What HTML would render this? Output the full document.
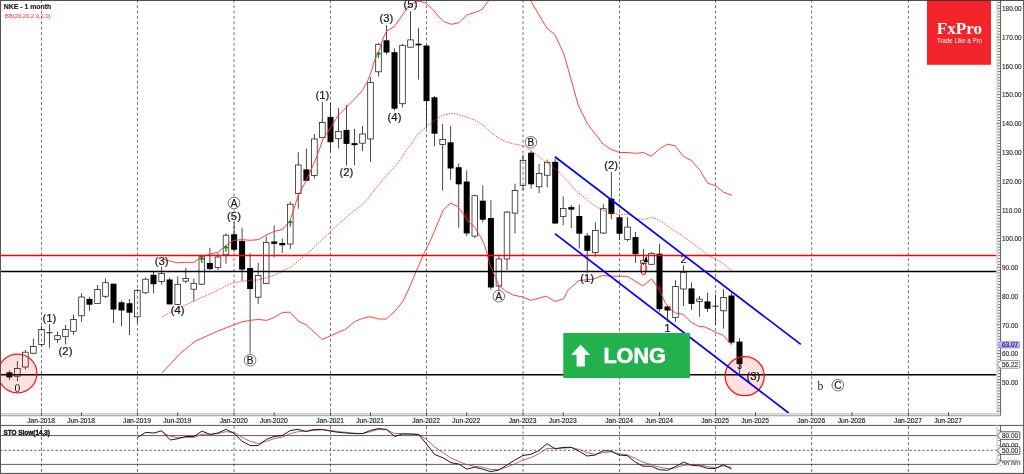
<!DOCTYPE html>
<html lang="en"><head><meta charset="utf-8"><title>NKE - 1 month</title>
<style>
html,body{margin:0;padding:0;background:#fff;}
body{width:1024px;height:474px;overflow:hidden;}
svg{display:block;}
text{font-family:"Liberation Sans",Arial,sans-serif;}
.ser{font-family:"Liberation Serif","Times New Roman",serif;}
.ax{font-size:6.45px;fill:#202020;stroke:#202020;stroke-width:0.1px;}
.tm{font-size:6.7px;fill:#202020;text-anchor:middle;stroke:#202020;stroke-width:0.15px;}
.lb{font-size:11.3px;fill:#1a1a1a;text-anchor:middle;stroke:#1a1a1a;stroke-width:0.22px;}
.wk{stroke:#161616;stroke-width:0.78;}
.hb{fill:none;stroke:#222;stroke-width:0.78;}
.bb{fill:#000;}
.grid{stroke:#505050;stroke-width:0.8;stroke-dasharray:3 2.38;}
</style></head><body>
<svg width="1024" height="474" viewBox="0 0 1024 474">
<rect x="0" y="0" width="1024" height="474" fill="#fff"/>
<g class="grid">
<line x1="41.47" y1="-0.2" x2="41.47" y2="413"/>
<line x1="41.47" y1="426" x2="41.47" y2="473"/>
<line x1="137.45" y1="-0.2" x2="137.45" y2="413"/>
<line x1="137.45" y1="426" x2="137.45" y2="473"/>
<line x1="234.05" y1="-0.2" x2="234.05" y2="413"/>
<line x1="234.05" y1="426" x2="234.05" y2="473"/>
<line x1="330.47" y1="-0.2" x2="330.47" y2="413"/>
<line x1="330.47" y1="426" x2="330.47" y2="473"/>
<line x1="426.47" y1="-0.2" x2="426.47" y2="413"/>
<line x1="426.47" y1="426" x2="426.47" y2="473"/>
<line x1="523.05" y1="-0.2" x2="523.05" y2="413"/>
<line x1="523.05" y1="426" x2="523.05" y2="473"/>
<line x1="619.47" y1="-0.2" x2="619.47" y2="413"/>
<line x1="619.47" y1="426" x2="619.47" y2="473"/>
<line x1="715.45" y1="-0.2" x2="715.45" y2="413"/>
<line x1="715.45" y1="426" x2="715.45" y2="473"/>
<line x1="811.65" y1="-0.2" x2="811.65" y2="413"/>
<line x1="811.65" y1="426" x2="811.65" y2="473"/>
<line x1="908.40" y1="-0.2" x2="908.40" y2="413"/>
<line x1="908.40" y1="426" x2="908.40" y2="473"/>
</g>
<line x1="0" y1="435.6" x2="997" y2="435.6" stroke="#333" stroke-width="0.8"/>
<line x1="0" y1="450.3" x2="997" y2="450.3" stroke="#333" stroke-width="0.8" stroke-dasharray="2.3 1.97"/>
<line x1="0" y1="464.4" x2="997" y2="464.4" stroke="#333" stroke-width="0.8"/>
<g>
<line class="wk" x1="9.4" y1="370.5" x2="9.4" y2="380"/>
<rect class="bb" x="6.4" y="372.4" width="6.0" height="5.0"/>
<path class="wk" d="M17.4 361V368.6M17.4 376.2V381.2"/>
<rect class="hb" x="14.6" y="368.6" width="5.6" height="7.6"/>
<path class="wk" d="M25.4 350V352.2M25.4 367V369.4"/>
<rect class="hb" x="22.6" y="352.2" width="5.6" height="14.8"/>
<path class="wk" d="M33.4 338.6V346.6M33.4 353.2V354.2"/>
<rect class="hb" x="30.6" y="346.6" width="5.6" height="6.6"/>
<path class="wk" d="M41.5 326V329.4M41.5 344.6V346.2"/>
<rect class="hb" x="38.7" y="329.4" width="5.6" height="15.2"/>
<line class="wk" x1="49.5" y1="324.3" x2="49.5" y2="347.8"/>
<rect class="bb" x="46.5" y="332.3" width="6.0" height="0.9"/>
<path class="wk" d="M57.5 331.6V335.7M57.5 339.5V342.8"/>
<rect class="hb" x="54.7" y="335.7" width="5.6" height="3.8"/>
<path class="wk" d="M65.5 325V329.5M65.5 336.7V344.3"/>
<rect class="hb" x="62.7" y="329.5" width="5.6" height="7.2"/>
<path class="wk" d="M73.5 314.6V319.4M73.5 331.3V334.8"/>
<rect class="hb" x="70.7" y="319.4" width="5.6" height="11.9"/>
<path class="wk" d="M81.5 293.2V297M81.5 315.8V321.8"/>
<rect class="hb" x="78.7" y="297" width="5.6" height="18.8"/>
<line class="wk" x1="89.5" y1="297.2" x2="89.5" y2="310.8"/>
<rect class="bb" x="86.5" y="298.9" width="6.0" height="5.8"/>
<path class="wk" d="M97.5 285V289.4"/>
<rect class="hb" x="94.7" y="289.4" width="5.6" height="14.0"/>
<path class="wk" d="M105.5 278.6V282.7M105.5 296.3V298"/>
<rect class="hb" x="102.7" y="282.7" width="5.6" height="13.6"/>
<line class="wk" x1="113.5" y1="283.7" x2="113.5" y2="323"/>
<rect class="bb" x="110.5" y="283.7" width="6.0" height="25.8"/>
<line class="wk" x1="121.5" y1="300.4" x2="121.5" y2="326.3"/>
<rect class="bb" x="118.5" y="302.3" width="6.0" height="8.2"/>
<line class="wk" x1="129.5" y1="299.1" x2="129.5" y2="335"/>
<rect class="bb" x="126.5" y="303.2" width="6.0" height="9.5"/>
<path class="wk" d="M137.4 289V290.3M137.4 316.8V323.2"/>
<rect class="hb" x="134.6" y="290.3" width="5.6" height="26.5"/>
<path class="wk" d="M145.5 277.6V279.2M145.5 292.8V294"/>
<rect class="hb" x="142.7" y="279.2" width="5.6" height="13.6"/>
<line class="wk" x1="153.5" y1="271.9" x2="153.5" y2="293.4"/>
<rect class="bb" x="150.5" y="274.8" width="6.0" height="9.4"/>
<path class="wk" d="M161.6 266.6V273.5M161.6 281.4V284.6"/>
<rect class="hb" x="158.8" y="273.5" width="5.6" height="7.9"/>
<line class="wk" x1="169.6" y1="277.6" x2="169.6" y2="304.4"/>
<rect class="bb" x="166.6" y="279.5" width="6.0" height="24.9"/>
<path class="wk" d="M177.7 276.3V284.3"/>
<rect class="hb" x="174.9" y="284.3" width="5.6" height="20.1"/>
<path class="wk" d="M185.8 267.8V278.6M185.8 281.1V283.3"/>
<rect class="hb" x="182.9" y="278.6" width="5.6" height="2.5"/>
<path class="wk" d="M193.8 278.6V283.3M193.8 289.2V301.6"/>
<rect class="hb" x="191.0" y="283.3" width="5.6" height="5.9"/>
<path class="wk" d="M201.8 256V256.7M201.8 284.2V285.2"/>
<rect class="hb" x="199.0" y="256.7" width="5.6" height="27.5"/>
<line class="wk" x1="209.9" y1="247.8" x2="209.9" y2="270"/>
<rect class="bb" x="206.9" y="263" width="6.0" height="6.1"/>
<path class="wk" d="M218.0 253.2V257M218.0 267.5V270"/>
<rect class="hb" x="215.2" y="257" width="5.6" height="10.5"/>
<path class="wk" d="M226.0 233.3V235.2M226.0 254.8V263.7"/>
<rect class="hb" x="223.2" y="235.2" width="5.6" height="19.6"/>
<line class="wk" x1="234.1" y1="222" x2="234.1" y2="252"/>
<rect class="bb" x="231.1" y="234.3" width="6.0" height="15.4"/>
<line class="wk" x1="242.1" y1="227.6" x2="242.1" y2="280.8"/>
<rect class="bb" x="239.1" y="240.9" width="6.0" height="28.7"/>
<line class="wk" x1="250.1" y1="253.2" x2="250.1" y2="353.6"/>
<rect class="bb" x="247.1" y="268" width="6.0" height="21.0"/>
<path class="wk" d="M258.2 263V275.4M258.2 297.2V304.2"/>
<rect class="hb" x="255.4" y="275.4" width="5.6" height="21.8"/>
<path class="wk" d="M266.2 236.5V242.4M266.2 283.3V284"/>
<rect class="hb" x="263.4" y="242.4" width="5.6" height="40.9"/>
<line class="wk" x1="274.2" y1="225.3" x2="274.2" y2="257.6"/>
<rect class="bb" x="271.2" y="241.5" width="6.0" height="2.3"/>
<line class="wk" x1="282.3" y1="238.4" x2="282.3" y2="252.9"/>
<rect class="bb" x="279.3" y="243" width="6.0" height="2.3"/>
<path class="wk" d="M290.3 201.6V204.2M290.3 244V248.9"/>
<rect class="hb" x="287.5" y="204.2" width="5.6" height="39.8"/>
<path class="wk" d="M298.3 152.3V165M298.3 193.4V208.6"/>
<rect class="hb" x="295.5" y="165" width="5.6" height="28.4"/>
<line class="wk" x1="306.4" y1="148.5" x2="306.4" y2="181"/>
<rect class="bb" x="303.4" y="169.4" width="6.0" height="11.4"/>
<path class="wk" d="M314.4 134V139M314.4 175.4V178.6"/>
<rect class="hb" x="311.6" y="139" width="5.6" height="36.4"/>
<path class="wk" d="M322.4 101.8V122.6M322.4 137.5V138"/>
<rect class="hb" x="319.6" y="122.6" width="5.6" height="14.9"/>
<line class="wk" x1="330.5" y1="103" x2="330.5" y2="151.7"/>
<rect class="bb" x="327.5" y="116.9" width="6.0" height="25.3"/>
<path class="wk" d="M338.5 108.1V131.5M338.5 138.7V148.5"/>
<rect class="hb" x="335.7" y="131.5" width="5.6" height="7.2"/>
<line class="wk" x1="346.5" y1="104.9" x2="346.5" y2="165.6"/>
<rect class="bb" x="343.5" y="129.9" width="6.0" height="14.0"/>
<line class="wk" x1="354.5" y1="128.9" x2="354.5" y2="165"/>
<rect class="bb" x="351.5" y="143.1" width="6.0" height="2.0"/>
<path class="wk" d="M362.5 125.8V134M362.5 143.2V151"/>
<rect class="hb" x="359.7" y="134" width="5.6" height="9.2"/>
<path class="wk" d="M370.5 77.1V82.4M370.5 139V161.8"/>
<rect class="hb" x="367.7" y="82.4" width="5.6" height="56.6"/>
<path class="wk" d="M378.5 43V44.3M378.5 71.8V76.5"/>
<rect class="hb" x="375.7" y="44.3" width="5.6" height="27.5"/>
<line class="wk" x1="386.5" y1="25.3" x2="386.5" y2="54.4"/>
<rect class="bb" x="383.5" y="40.3" width="6.0" height="12.2"/>
<line class="wk" x1="394.5" y1="48.4" x2="394.5" y2="110.6"/>
<rect class="bb" x="391.5" y="52.2" width="6.0" height="56.5"/>
<path class="wk" d="M402.5 44V45.3M402.5 103.7V107.5"/>
<rect class="hb" x="399.7" y="45.3" width="5.6" height="58.4"/>
<path class="wk" d="M410.5 11.4V39.9"/>
<rect class="hb" x="407.7" y="39.9" width="5.6" height="7.3"/>
<line class="wk" x1="418.5" y1="27.8" x2="418.5" y2="79.6"/>
<rect class="bb" x="415.5" y="43.7" width="6.0" height="1.6"/>
<line class="wk" x1="426.5" y1="44.6" x2="426.5" y2="128.5"/>
<rect class="bb" x="423.5" y="45.6" width="6.0" height="55.5"/>
<line class="wk" x1="434.5" y1="96" x2="434.5" y2="146.3"/>
<rect class="bb" x="431.5" y="97.3" width="6.0" height="36.4"/>
<path class="wk" d="M442.6 123.9V139.4M442.6 144.5V190.6"/>
<rect class="hb" x="439.8" y="139.4" width="5.6" height="5.1"/>
<line class="wk" x1="450.6" y1="125.8" x2="450.6" y2="179.9"/>
<rect class="bb" x="447.6" y="142.3" width="6.0" height="26.2"/>
<line class="wk" x1="458.7" y1="163.4" x2="458.7" y2="227.7"/>
<rect class="bb" x="455.7" y="167.2" width="6.0" height="17.1"/>
<line class="wk" x1="466.7" y1="170.4" x2="466.7" y2="236.1"/>
<rect class="bb" x="463.7" y="181.5" width="6.0" height="51.9"/>
<path class="wk" d="M474.8 194.7V195.7M474.8 236.1V238"/>
<rect class="hb" x="472.0" y="195.7" width="5.6" height="40.4"/>
<line class="wk" x1="482.8" y1="185.6" x2="482.8" y2="222.2"/>
<rect class="bb" x="479.8" y="200.7" width="6.0" height="19.0"/>
<line class="wk" x1="490.9" y1="200.3" x2="490.9" y2="289.5"/>
<rect class="bb" x="487.9" y="218" width="6.0" height="69.5"/>
<path class="wk" d="M498.9 255.7V259M498.9 286V290.6"/>
<rect class="hb" x="496.1" y="259" width="5.6" height="27.0"/>
<path class="wk" d="M507.0 211V212.1M507.0 259V270"/>
<rect class="hb" x="504.2" y="212.1" width="5.6" height="46.9"/>
<path class="wk" d="M515.0 183.7V190.4M515.0 213.1V233.6"/>
<rect class="hb" x="512.2" y="190.4" width="5.6" height="22.7"/>
<path class="wk" d="M523.0 155V160.3M523.0 185.3V190"/>
<rect class="hb" x="520.2" y="160.3" width="5.6" height="25.0"/>
<line class="wk" x1="531.1" y1="150.8" x2="531.1" y2="188.7"/>
<rect class="bb" x="528.1" y="152.7" width="6.0" height="31.6"/>
<path class="wk" d="M539.1 164V173.5M539.1 186.8V193.2"/>
<rect class="hb" x="536.3" y="173.5" width="5.6" height="13.3"/>
<path class="wk" d="M547.2 159.6V162.5M547.2 175.2V187.5"/>
<rect class="hb" x="544.4" y="162.5" width="5.6" height="12.7"/>
<line class="wk" x1="555.2" y1="158.6" x2="555.2" y2="224"/>
<rect class="bb" x="552.2" y="161.8" width="6.0" height="61.7"/>
<path class="wk" d="M563.2 196.3V208.5M563.2 216.5V225.4"/>
<rect class="hb" x="560.4" y="208.5" width="5.6" height="8.0"/>
<line class="wk" x1="571.3" y1="205" x2="571.3" y2="228"/>
<rect class="bb" x="568.3" y="207.1" width="6.0" height="2.5"/>
<line class="wk" x1="579.3" y1="204.6" x2="579.3" y2="248.5"/>
<rect class="bb" x="576.3" y="216" width="6.0" height="17.7"/>
<line class="wk" x1="587.3" y1="233" x2="587.3" y2="272.9"/>
<rect class="bb" x="584.3" y="235.6" width="6.0" height="15.2"/>
<path class="wk" d="M595.4 222.3V230.5M595.4 252.4V256.5"/>
<rect class="hb" x="592.6" y="230.5" width="5.6" height="21.9"/>
<path class="wk" d="M603.4 204.2V208.7M603.4 233V234"/>
<rect class="hb" x="600.6" y="208.7" width="5.6" height="24.3"/>
<line class="wk" x1="611.4" y1="172" x2="611.4" y2="219.1"/>
<rect class="bb" x="608.4" y="198.6" width="6.0" height="15.4"/>
<line class="wk" x1="619.5" y1="215" x2="619.5" y2="240"/>
<rect class="bb" x="616.5" y="217.2" width="6.0" height="16.5"/>
<path class="wk" d="M627.5 217.2V227.1M627.5 239.4V241.3"/>
<rect class="hb" x="624.7" y="227.1" width="5.6" height="12.3"/>
<line class="wk" x1="635.5" y1="231.8" x2="635.5" y2="262.8"/>
<rect class="bb" x="632.5" y="237.1" width="6.0" height="17.1"/>
<path class="wk" d="M643.5 248.9V260.3M643.5 263.4V265"/>
<rect class="hb" x="640.7" y="260.3" width="5.6" height="3.1"/>
<path class="wk" d="M651.5 252V253.3M651.5 264.3V265"/>
<rect class="hb" x="648.7" y="253.3" width="5.6" height="11.0"/>
<line class="wk" x1="659.5" y1="243.8" x2="659.5" y2="311.8"/>
<rect class="bb" x="656.5" y="253.7" width="6.0" height="55.5"/>
<line class="wk" x1="667.5" y1="305" x2="667.5" y2="321.9"/>
<rect class="bb" x="664.5" y="306.5" width="6.0" height="4.0"/>
<path class="wk" d="M675.5 280.1V286.5M675.5 317.5V321.9"/>
<rect class="hb" x="672.7" y="286.5" width="5.6" height="31.0"/>
<path class="wk" d="M683.5 265.3V272.3M683.5 289V306.1"/>
<rect class="hb" x="680.7" y="272.3" width="5.6" height="16.7"/>
<line class="wk" x1="691.5" y1="282.3" x2="691.5" y2="309.9"/>
<rect class="bb" x="688.5" y="288.4" width="6.0" height="15.5"/>
<path class="wk" d="M699.5 296V299.1M699.5 301.4V316.8"/>
<rect class="hb" x="696.7" y="299.1" width="5.6" height="2.3"/>
<line class="wk" x1="707.5" y1="292.8" x2="707.5" y2="311.9"/>
<rect class="bb" x="704.5" y="301.4" width="6.0" height="7.3"/>
<line class="wk" x1="715.5" y1="294.4" x2="715.5" y2="324.8"/>
<rect class="bb" x="712.5" y="305.7" width="6.0" height="0.9"/>
<path class="wk" d="M723.5 289.2V297.6M723.5 310.8V328.6"/>
<rect class="hb" x="720.7" y="297.6" width="5.6" height="13.2"/>
<line class="wk" x1="731.5" y1="292.8" x2="731.5" y2="343.8"/>
<rect class="bb" x="728.5" y="295.5" width="6.0" height="47.1"/>
<line class="wk" x1="739.5" y1="338.2" x2="739.5" y2="374.3"/>
<rect class="bb" x="736.5" y="341.6" width="6.0" height="22.3"/>
</g>
<polyline points="162.0,258.8 167.0,260.3 177.2,262.8 187.3,262.3 193.8,262.4 202.0,256.7 210.3,253.9 217.8,252.3 226.1,245.3 233.7,240.3 241.9,239.6 250.1,240.3 258.4,239.6 266.0,235.2 274.2,231.4 282.4,229.5 290.0,220.8 298.2,195.3 306.2,180.8 316.7,156.8 323.0,139.1 330.6,127.7 338.0,115.7 346.8,106.8 354.4,99.2 362.0,91.0 367.1,82.2 370.9,72.7 374.7,60.0 379.1,50.6 383.2,38.0 386.7,31.0 394.3,26.6 400.6,17.7 407.0,8.2 413.3,3.2 419.0,1.0 426.0,3.2 432.3,8.9 438.6,16.5 443.7,21.5 451.3,24.3 458.9,22.8 466.5,15.2 478.0,11.4 482.6,8.9 489.0,0.0 510.0,-20.0 530.2,0.0 547.0,28.4 555.0,34.7 564.0,54.4 571.5,81.0 578.2,105.0 587.1,123.4 595.3,134.1 603.2,144.2 611.1,149.3 619.4,152.5 627.6,152.5 635.6,153.4 643.4,152.5 651.3,156.3 659.2,149.1 667.5,144.2 675.1,145.8 683.3,156.3 691.3,160.4 699.5,169.6 707.7,183.2 715.6,185.7 723.5,192.2 731.8,195.3" fill="none" stroke="#ff3636" stroke-width="0.95" stroke-linejoin="round"/>
<polyline points="162.0,373.0 179.7,354.0 195.0,341.3 217.7,331.1 233.9,324.8 242.0,321.9 250.3,320.4 258.1,319.4 266.7,320.4 274.3,317.5 282.5,312.4 290.1,312.2 298.4,321.3 306.0,324.7 314.0,332.0 322.3,339.5 330.7,335.7 345.9,329.1 354.7,321.5 362.3,318.5 370.0,316.7 378.8,319.0 386.4,319.0 395.2,310.9 402.8,301.5 409.2,288.1 415.5,272.9 424.4,252.7 430.7,240.0 443.3,209.9 450.8,203.2 457.7,206.4 463.4,214.0 467.2,220.3 474.2,226.6 480.5,236.8 484.3,244.4 487.5,255.0 490.2,265.3 499.0,285.6 506.0,291.4 513.6,295.2 521.8,296.8 531.0,300.3 546.2,296.2 555.0,301.5 563.9,298.7 567.6,290.6 579.0,280.5 592.9,279.2 603.0,275.4 610.6,276.1 627.1,276.3 642.9,285.8 651.6,278.9 659.0,289.0 665.3,302.9 670.4,309.2 675.4,313.0 683.0,314.3 688.1,319.5 691.9,322.7 698.9,326.4 704.0,326.6 711.5,330.0 717.2,333.2 722.9,335.0 728.0,340.8 731.8,345.2" fill="none" stroke="#ff3636" stroke-width="0.95" stroke-linejoin="round"/>
<polyline points="161.8,316.8 170.6,312.4 178.2,308.0 185.8,304.8 194.1,301.0 202.3,297.2 211.1,293.4 220.0,289.0 227.6,285.2 233.9,282.7 242.0,281.1 250.3,280.4 258.1,279.9 266.0,277.6 274.2,275.1 283.7,270.6 291.3,266.8 298.9,260.5 307.1,253.5 318.0,243.4 332.2,230.0 341.0,221.9 351.1,213.0 361.3,205.4 367.6,199.1 375.2,189.0 381.5,181.4 388.0,173.8 399.0,161.8 408.0,147.9 410.0,145.7 417.6,134.3 426.5,126.7 435.3,119.7 442.9,115.3 450.5,113.4 458.1,114.3 467.0,117.2 475.8,120.4 483.4,125.4 491.0,132.4 498.6,138.1 506.2,141.9 515.0,144.2 522.7,145.5 531.3,150.8 538.9,156.5 547.7,163.4 558.0,171.0 566.5,180.0 575.3,190.0 582.9,196.3 591.8,204.0 600.6,209.0 609.5,212.8 618.4,214.3 628.5,214.3 636.1,218.5 643.7,219.7 651.3,217.2 658.9,220.0 667.1,225.8 675.3,231.5 683.5,236.5 693.0,243.5 700.6,249.2 708.2,255.5 715.8,259.3 723.4,263.7 731.6,270.7" fill="none" stroke="#ff3636" stroke-width="0.85" stroke-dasharray="1.6 1.1" stroke-linejoin="round"/>
<path d="M199.8 259.6L201.8 257.5L203.9 259.6M201.8 257.7V263.1" fill="none" stroke="#168c1c" stroke-width="1.35" stroke-linejoin="miter"/>
<path d="M223.9 248.3L226.0 246.2L228.1 248.3M226.0 246.4V251.8" fill="none" stroke="#168c1c" stroke-width="1.35" stroke-linejoin="miter"/>
<path d="M288.2 223.1L290.3 221.0L292.4 223.1M290.3 221.2V226.6" fill="none" stroke="#168c1c" stroke-width="1.35" stroke-linejoin="miter"/>
<path d="M376.4 54.5L378.5 52.4L380.6 54.5M378.5 52.6V58.0" fill="none" stroke="#168c1c" stroke-width="1.35" stroke-linejoin="miter"/>
<path d="M464.6 216.9L466.7 219.0L468.8 216.9M466.7 218.8V212.6" fill="none" stroke="#a00000" stroke-width="1.1" stroke-linejoin="miter"/>
<path d="M657.4 288.1L659.5 290.2L661.6 288.1M659.5 290.0V283.8" fill="none" stroke="#a00000" stroke-width="1.1" stroke-linejoin="miter"/>
<path d="M646.2 255.8L648 262H643.8Z" fill="#000"/>
<text class="ser" transform="translate(643.6 275) scale(0.8 1)" x="0" y="0" text-anchor="middle" font-size="19.2" fill="#ff0000">0</text>
<line x1="1" y1="255.4" x2="997" y2="255.4" stroke="#ff0000" stroke-width="1.55"/>
<line x1="1" y1="271.45" x2="997" y2="271.45" stroke="#000" stroke-width="1.55"/>
<line x1="1" y1="374.82" x2="997" y2="374.82" stroke="#000" stroke-width="1.5"/>
<circle cx="17.5" cy="373.4" r="19.4" fill="#ff0000" fill-opacity="0.12" stroke="#ff1010" stroke-width="1.25"/>
<circle cx="744.7" cy="376.1" r="19.6" fill="#ff0000" fill-opacity="0.12" stroke="#ff1010" stroke-width="1.25"/>
<text class="lb" x="49.3" y="322.1">(1)</text>
<text class="lb" x="65.5" y="354.8">(2)</text>
<text class="lb" x="161.6" y="265.1">(3)</text>
<text class="lb" x="177.7" y="313.8">(4)</text>
<text class="lb" x="234" y="220">(5)</text>
<circle cx="234" cy="203" r="5.8" fill="#fff" stroke="#3a3a3a" stroke-width="0.7"/>
<text class="lb" x="234" y="206.6" style="font-size:10px" stroke="#1a1a1a" stroke-width="0.25">A</text>
<circle cx="250.1" cy="360.2" r="5.8" fill="#fff" stroke="#3a3a3a" stroke-width="0.7"/>
<text class="lb" x="250.1" y="363.8" style="font-size:10px" stroke="#1a1a1a" stroke-width="0.25">B</text>
<text class="lb" x="322.3" y="99.3">(1)</text>
<text class="lb" x="346.3" y="175.7">(2)</text>
<text class="lb" x="386.4" y="22.4">(3)</text>
<text class="lb" x="394.5" y="121">(4)</text>
<text class="lb" x="410.5" y="7.5">(5)</text>
<circle cx="530.9" cy="142.3" r="5.8" fill="#fff" stroke="#3a3a3a" stroke-width="0.7"/>
<text class="lb" x="530.9" y="145.9" style="font-size:10px" stroke="#1a1a1a" stroke-width="0.25">B</text>
<circle cx="498.8" cy="296.2" r="5.8" fill="#fff" stroke="#3a3a3a" stroke-width="0.7"/>
<text class="lb" x="498.8" y="299.8" style="font-size:10px" stroke="#1a1a1a" stroke-width="0.25">A</text>
<text class="lb" x="587.1" y="281.8">(1)</text>
<text class="lb" x="611.2" y="169">(2)</text>
<text class="lb" x="683.6" y="262.9">2</text>
<text class="lb" x="667.3" y="332.4">1</text>
<text class="lb" x="739.5" y="368.9" style="font-size:8.5px">3</text>
<text class="lb" x="753.3" y="380">(3)</text>
<text class="ser" x="17.3" y="392" text-anchor="middle" font-size="11.5" fill="#1a1a1a">0</text>
<text class="ser" x="820.3" y="389.7" text-anchor="middle" font-size="11.6" fill="#1a1a1a">b</text>
<circle cx="837.8" cy="385.2" r="5.8" fill="#fff" stroke="#3a3a3a" stroke-width="0.7"/>
<text class="lb" x="837.8" y="388.8" style="font-size:10px" stroke="#1a1a1a" stroke-width="0.25">C</text>
<line x1="554.9" y1="156.8" x2="800.8" y2="344.4" stroke="#0000ff" stroke-width="1.7"/>
<line x1="554.9" y1="233.7" x2="788.7" y2="413" stroke="#0000ff" stroke-width="1.7"/>
<rect x="563.3" y="333" width="126.6" height="45" fill="#22b14c"/>
<path d="M580.6 344.6L590.1 355H584.8V366.5H576.6V355H571.1Z" fill="#fff"/>
<text x="603.4" y="363.4" font-size="21.2" font-weight="bold" fill="#fff" stroke="#fff" stroke-width="0.6" textLength="62.4" lengthAdjust="spacingAndGlyphs">LONG</text>
<rect x="927" y="0" width="64" height="64.8" fill="#f3252b"/>
<text class="ser" x="936.7" y="34.4" font-size="17.2" font-weight="bold" fill="#fff" textLength="45.3" lengthAdjust="spacingAndGlyphs">FxPro</text>
<text x="937" y="42.8" font-size="6.3" fill="#fff" textLength="45" lengthAdjust="spacingAndGlyphs">Trade Like a Pro</text>
<text x="3.8" y="9.1" font-size="7.2" font-weight="bold" fill="#1a1a1a" stroke="#1a1a1a" stroke-width="0.15" textLength="47.5" lengthAdjust="spacingAndGlyphs" xml:space="preserve">NKE - 1 month</text>
<text x="5" y="18.3" font-size="6.2" fill="#ff2a2a" textLength="45.6" lengthAdjust="spacingAndGlyphs">BB(20,20,2.0,2.0)</text>
<rect x="0" y="413" width="1001" height="13" fill="#fff"/>
<rect x="0" y="413" width="1000" height="1" fill="#d6d3c4"/>
<rect x="0" y="414.6" width="1000.6" height="1.7" fill="#b0b0b0"/>
<line x1="41.5" y1="412.3" x2="41.5" y2="415.6" stroke="#222" stroke-width="0.8"/>
<text class="tm" x="41.1" y="422.65" textLength="27.9" lengthAdjust="spacingAndGlyphs">Jan-2018</text>
<line x1="81.5" y1="412.3" x2="81.5" y2="415.6" stroke="#222" stroke-width="0.8"/>
<text class="tm" x="81.1" y="422.65" textLength="27.9" lengthAdjust="spacingAndGlyphs">Jun-2018</text>
<line x1="137.4" y1="412.3" x2="137.4" y2="415.6" stroke="#222" stroke-width="0.8"/>
<text class="tm" x="137.0" y="422.65" textLength="27.9" lengthAdjust="spacingAndGlyphs">Jan-2019</text>
<line x1="177.7" y1="412.3" x2="177.7" y2="415.6" stroke="#222" stroke-width="0.8"/>
<text class="tm" x="177.3" y="422.65" textLength="27.9" lengthAdjust="spacingAndGlyphs">Jun-2019</text>
<line x1="234.1" y1="412.3" x2="234.1" y2="415.6" stroke="#222" stroke-width="0.8"/>
<text class="tm" x="233.7" y="422.65" textLength="27.9" lengthAdjust="spacingAndGlyphs">Jan-2020</text>
<line x1="274.2" y1="412.3" x2="274.2" y2="415.6" stroke="#222" stroke-width="0.8"/>
<text class="tm" x="273.8" y="422.65" textLength="27.9" lengthAdjust="spacingAndGlyphs">Jun-2020</text>
<line x1="330.5" y1="412.3" x2="330.5" y2="415.6" stroke="#222" stroke-width="0.8"/>
<text class="tm" x="330.1" y="422.65" textLength="27.9" lengthAdjust="spacingAndGlyphs">Jan-2021</text>
<line x1="370.5" y1="412.3" x2="370.5" y2="415.6" stroke="#222" stroke-width="0.8"/>
<text class="tm" x="370.1" y="422.65" textLength="27.9" lengthAdjust="spacingAndGlyphs">Jun-2021</text>
<line x1="426.5" y1="412.3" x2="426.5" y2="415.6" stroke="#222" stroke-width="0.8"/>
<text class="tm" x="426.1" y="422.65" textLength="27.9" lengthAdjust="spacingAndGlyphs">Jan-2022</text>
<line x1="466.7" y1="412.3" x2="466.7" y2="415.6" stroke="#222" stroke-width="0.8"/>
<text class="tm" x="466.3" y="422.65" textLength="27.9" lengthAdjust="spacingAndGlyphs">Jun-2022</text>
<line x1="523.0" y1="412.3" x2="523.0" y2="415.6" stroke="#222" stroke-width="0.8"/>
<text class="tm" x="522.6" y="422.65" textLength="27.9" lengthAdjust="spacingAndGlyphs">Jan-2023</text>
<line x1="563.2" y1="412.3" x2="563.2" y2="415.6" stroke="#222" stroke-width="0.8"/>
<text class="tm" x="562.8" y="422.65" textLength="27.9" lengthAdjust="spacingAndGlyphs">Jun-2023</text>
<line x1="619.5" y1="412.3" x2="619.5" y2="415.6" stroke="#222" stroke-width="0.8"/>
<text class="tm" x="619.1" y="422.65" textLength="27.9" lengthAdjust="spacingAndGlyphs">Jan-2024</text>
<line x1="659.5" y1="412.3" x2="659.5" y2="415.6" stroke="#222" stroke-width="0.8"/>
<text class="tm" x="659.1" y="422.65" textLength="27.9" lengthAdjust="spacingAndGlyphs">Jun-2024</text>
<line x1="715.5" y1="412.3" x2="715.5" y2="415.6" stroke="#222" stroke-width="0.8"/>
<text class="tm" x="715.1" y="422.65" textLength="27.9" lengthAdjust="spacingAndGlyphs">Jan-2025</text>
<line x1="755.5" y1="412.3" x2="755.5" y2="415.6" stroke="#222" stroke-width="0.8"/>
<text class="tm" x="755.1" y="422.65" textLength="27.9" lengthAdjust="spacingAndGlyphs">Jun-2025</text>
<line x1="811.6" y1="412.3" x2="811.6" y2="415.6" stroke="#222" stroke-width="0.8"/>
<text class="tm" x="811.2" y="422.65" textLength="27.9" lengthAdjust="spacingAndGlyphs">Jan-2026</text>
<line x1="852.0" y1="412.3" x2="852.0" y2="415.6" stroke="#222" stroke-width="0.8"/>
<text class="tm" x="851.6" y="422.65" textLength="27.9" lengthAdjust="spacingAndGlyphs">Jun-2026</text>
<line x1="908.4" y1="412.3" x2="908.4" y2="415.6" stroke="#222" stroke-width="0.8"/>
<text class="tm" x="908.0" y="422.65" textLength="27.9" lengthAdjust="spacingAndGlyphs">Jan-2027</text>
<line x1="948.5" y1="412.3" x2="948.5" y2="415.6" stroke="#222" stroke-width="0.8"/>
<text class="tm" x="948.1" y="422.65" textLength="27.9" lengthAdjust="spacingAndGlyphs">Jun-2027</text>
<rect x="0" y="424.9" width="1024" height="1" fill="#555"/>
<text x="3.5" y="434.7" font-size="6.9" font-weight="bold" fill="#111" stroke="#111" stroke-width="0.35" textLength="46.5" lengthAdjust="spacingAndGlyphs">STO Slow(14,3)</text>
<polyline points="161.5,430.8 166.0,434.3 170.4,436.2 178.0,437.8 185.6,437.4 193.8,437.4 202.0,434.3 210.3,434.3 217.9,433.6 226.1,431.7 234.3,432.4 241.9,437.4 250.2,441.2 258.2,443.7 266.5,441.2 274.0,438.7 282.3,437.0 290.3,433.6 298.1,431.7 306.3,431.1 313.9,430.5 322.2,429.8 330.4,430.5 338.6,431.5 346.2,432.4 354.4,433.2 362.7,433.6 370.3,431.7 378.2,429.4 386.5,429.8 394.7,433.6 402.3,433.6 410.5,434.0 418.5,434.5 426.3,439.3 434.6,446.9 442.8,452.6 451.0,458.0 458.6,461.5 466.8,464.6 474.4,466.2 482.7,467.2 490.3,469.4 498.2,469.7 506.5,467.2 514.7,464.0 522.9,460.2 530.8,457.7 538.7,453.9 547.0,448.4 555.2,448.4 562.8,448.2 571.0,447.5 579.2,449.4 587.2,452.6 595.1,454.3 603.3,452.6 610.9,451.7 618.9,453.9 627.1,454.8 635.3,458.3 642.9,462.1 651.1,464.6 659.4,467.2 667.6,468.7 675.6,467.8 683.7,465.3 691.6,464.6 699.9,464.9 707.5,466.5 715.7,467.8 723.3,465.9 731.5,467.4" fill="none" stroke="#b04040" stroke-width="0.8" stroke-linejoin="round"/>
<polyline points="137.5,437.4 145.7,432.4 154.0,433.0 161.5,430.8 170.4,440.0 178.0,438.7 185.6,436.5 193.8,436.5 202.0,431.1 210.3,434.5 217.9,433.0 226.1,429.4 234.3,433.6 241.9,441.2 250.2,445.6 258.2,445.6 266.5,439.3 274.0,436.5 282.3,435.5 290.3,430.5 298.1,429.4 306.3,431.5 313.9,429.4 322.2,429.4 330.4,431.1 338.6,432.4 346.2,433.0 354.4,433.6 362.7,433.6 370.3,430.5 378.2,428.6 386.5,429.4 394.7,436.5 402.3,434.0 410.5,434.0 418.5,434.3 426.3,443.7 434.6,454.5 442.8,457.7 451.0,462.7 458.6,464.0 466.8,469.1 474.4,467.2 482.7,469.1 490.3,471.6 498.2,470.3 506.5,465.3 514.7,460.2 522.9,455.5 530.8,454.3 538.7,450.7 547.0,443.7 555.2,448.8 562.8,447.5 571.0,447.2 579.2,451.3 587.2,456.0 595.1,455.1 603.3,450.7 610.9,451.0 618.9,455.1 627.1,455.5 635.3,462.1 642.9,466.2 651.1,466.2 659.4,469.7 667.6,470.3 675.6,466.5 683.7,462.1 691.6,465.3 699.9,465.9 707.5,468.4 715.7,468.4 723.3,464.6 731.5,469.1" fill="none" stroke="#1a1a1a" stroke-width="1" stroke-linejoin="round"/>
<rect x="997.3" y="0" width="26.7" height="413" fill="#fff"/>
<linearGradient id="tg" x1="0" y1="0" x2="0" y2="1"><stop offset="0" stop-color="#c6c6ff"/><stop offset="1" stop-color="#9a9af2"/></linearGradient>
<rect x="996.2" y="0" width="1.9" height="415" fill="#dcdcd6"/>
<rect x="996.2" y="425.5" width="1.9" height="40" fill="#dcdcd6"/>
<rect x="1000.15" y="0" width="0.9" height="415.5" fill="#555"/>
<rect x="1000.15" y="425.5" width="0.9" height="40" fill="#555"/>
<path d="M997.9 2.54H1000.3 M997.9 5.41H1000.3 M997.1 8.29H1000.3 M997.9 11.17H1000.3 M997.9 14.04H1000.3 M997.9 16.92H1000.3 M997.9 19.80H1000.3 M997.9 22.68H1000.3 M997.9 25.55H1000.3 M997.9 28.43H1000.3 M997.9 31.31H1000.3 M997.9 34.18H1000.3 M997.1 37.06H1000.3 M997.9 39.94H1000.3 M997.9 42.81H1000.3 M997.9 45.69H1000.3 M997.9 48.57H1000.3 M997.9 51.45H1000.3 M997.9 54.32H1000.3 M997.9 57.20H1000.3 M997.9 60.08H1000.3 M997.9 62.95H1000.3 M997.1 65.83H1000.3 M997.9 68.71H1000.3 M997.9 71.58H1000.3 M997.9 74.46H1000.3 M997.9 77.34H1000.3 M997.9 80.22H1000.3 M997.9 83.09H1000.3 M997.9 85.97H1000.3 M997.9 88.85H1000.3 M997.9 91.72H1000.3 M997.1 94.60H1000.3 M997.9 97.48H1000.3 M997.9 100.35H1000.3 M997.9 103.23H1000.3 M997.9 106.11H1000.3 M997.9 108.99H1000.3 M997.9 111.86H1000.3 M997.9 114.74H1000.3 M997.9 117.62H1000.3 M997.9 120.49H1000.3 M997.1 123.37H1000.3 M997.9 126.25H1000.3 M997.9 129.12H1000.3 M997.9 132.00H1000.3 M997.9 134.88H1000.3 M997.9 137.76H1000.3 M997.9 140.63H1000.3 M997.9 143.51H1000.3 M997.9 146.39H1000.3 M997.9 149.26H1000.3 M997.1 152.14H1000.3 M997.9 155.02H1000.3 M997.9 157.89H1000.3 M997.9 160.77H1000.3 M997.9 163.65H1000.3 M997.9 166.53H1000.3 M997.9 169.40H1000.3 M997.9 172.28H1000.3 M997.9 175.16H1000.3 M997.9 178.03H1000.3 M997.1 180.91H1000.3 M997.9 183.79H1000.3 M997.9 186.66H1000.3 M997.9 189.54H1000.3 M997.9 192.42H1000.3 M997.9 195.30H1000.3 M997.9 198.17H1000.3 M997.9 201.05H1000.3 M997.9 203.93H1000.3 M997.9 206.80H1000.3 M997.1 209.68H1000.3 M997.9 212.56H1000.3 M997.9 215.43H1000.3 M997.9 218.31H1000.3 M997.9 221.19H1000.3 M997.9 224.07H1000.3 M997.9 226.94H1000.3 M997.9 229.82H1000.3 M997.9 232.70H1000.3 M997.9 235.57H1000.3 M997.1 238.45H1000.3 M997.9 241.33H1000.3 M997.9 244.20H1000.3 M997.9 247.08H1000.3 M997.9 249.96H1000.3 M997.9 252.84H1000.3 M997.9 255.71H1000.3 M997.9 258.59H1000.3 M997.9 261.47H1000.3 M997.9 264.34H1000.3 M997.1 267.22H1000.3 M997.9 270.10H1000.3 M997.9 272.97H1000.3 M997.9 275.85H1000.3 M997.9 278.73H1000.3 M997.9 281.61H1000.3 M997.9 284.48H1000.3 M997.9 287.36H1000.3 M997.9 290.24H1000.3 M997.9 293.11H1000.3 M997.1 295.99H1000.3 M997.9 298.87H1000.3 M997.9 301.74H1000.3 M997.9 304.62H1000.3 M997.9 307.50H1000.3 M997.9 310.38H1000.3 M997.9 313.25H1000.3 M997.9 316.13H1000.3 M997.9 319.01H1000.3 M997.9 321.88H1000.3 M997.1 324.76H1000.3 M997.9 327.64H1000.3 M997.9 330.51H1000.3 M997.9 333.39H1000.3 M997.9 336.27H1000.3 M997.9 339.15H1000.3 M997.9 342.02H1000.3 M997.9 344.90H1000.3 M997.9 347.78H1000.3 M997.9 350.65H1000.3 M997.1 353.53H1000.3 M997.9 356.41H1000.3 M997.9 359.28H1000.3 M997.9 362.16H1000.3 M997.9 365.04H1000.3 M997.9 367.92H1000.3 M997.9 370.79H1000.3 M997.9 373.67H1000.3 M997.9 376.55H1000.3 M997.9 379.42H1000.3 M997.1 382.30H1000.3 M997.9 385.18H1000.3 M997.9 388.05H1000.3 M997.9 390.93H1000.3 M997.9 393.81H1000.3 M997.9 396.69H1000.3 M997.9 399.56H1000.3 M997.9 402.44H1000.3 M997.9 405.32H1000.3 M997.9 408.19H1000.3 M997.1 411.07H1000.3" stroke="#444" stroke-width="0.75" fill="none"/>
<text class="ax" x="1002" y="11.1">180.00</text>
<text class="ax" x="1002" y="39.9">170.00</text>
<text class="ax" x="1002" y="68.6">160.00</text>
<text class="ax" x="1002" y="97.4">150.00</text>
<text class="ax" x="1002" y="126.2">140.00</text>
<text class="ax" x="1002" y="154.9">130.00</text>
<text class="ax" x="1002" y="183.7">120.00</text>
<text class="ax" x="1002" y="212.5">110.00</text>
<text class="ax" x="1002" y="241.3">100.00</text>
<text class="ax" x="1002" y="270.0">90.00</text>
<text class="ax" x="1002" y="298.8">80.00</text>
<text class="ax" x="1002" y="327.6">70.00</text>
<text class="ax" x="1002" y="356.3">60.00</text>
<text class="ax" x="1002" y="385.1">50.00</text>
<path d="M997.2 344.8L1000.6 341.5H1018.8Q1019.8 341.5 1019.8 342.5V347.1Q1019.8 348.1 1018.8 348.1H1000.6Z" fill="url(#tg)" stroke="#9a9af0" stroke-width="0.8"/>
<text class="ax" x="1002" y="347.1" fill="#222">63.07</text>
<path d="M997.2 364.4L1000.6 360.6H1018.8Q1019.8 360.6 1019.8 361.6V367.2Q1019.8 368.2 1018.8 368.2H1000.6Z" fill="#fff" stroke="#777" stroke-width="0.8"/>
<text class="ax" x="1002" y="366.7" fill="#222">56.22</text>
<text class="ax" x="1002" y="447.5">60.00</text>
<path d="M997.2 435.6L1000.6 431.8H1018.8Q1019.8 431.8 1019.8 432.8V438.4Q1019.8 439.4 1018.8 439.4H1000.6Z" fill="#fff" stroke="#333" stroke-width="0.8"/>
<text class="ax" x="1002" y="437.9" fill="#222">80.00</text>
<path d="M997.2 450.5L1000.6 446.7H1018.8Q1019.8 446.7 1019.8 447.7V453.3Q1019.8 454.3 1018.8 454.3H1000.6Z" fill="#fff" stroke="#333" stroke-width="0.8"/>
<text class="ax" x="1002" y="452.8" fill="#222">50.00</text>
<clipPath id="c20"><rect x="990" y="455" width="34" height="9.9"/></clipPath>
<g clip-path="url(#c20)">
<path d="M997.2 464.8L1000.6 461.0H1018.8Q1019.8 461.0 1019.8 462.0V467.6Q1019.8 468.6 1018.8 468.6H1000.6Z" fill="#fff" stroke="#333" stroke-width="0.8"/>
<text class="ax" x="1002" y="467.1" fill="#222">20.00</text>
</g>
<path d="M998 430.70H1000 M998 440.50H1000 M998 445.40H1000 M998 455.20H1000 M998 460.10H1000" stroke="#555" stroke-width="0.7" fill="none"/>
<rect x="0" y="0" width="1024" height="0.9" fill="#3a3a3a"/>
<rect x="0" y="0" width="1" height="474" fill="#555"/>
<rect x="1023.1" y="0" width="0.9" height="474" fill="#555"/>
<rect x="0" y="472.9" width="1024" height="1.1" fill="#555"/>
</svg></body></html>
